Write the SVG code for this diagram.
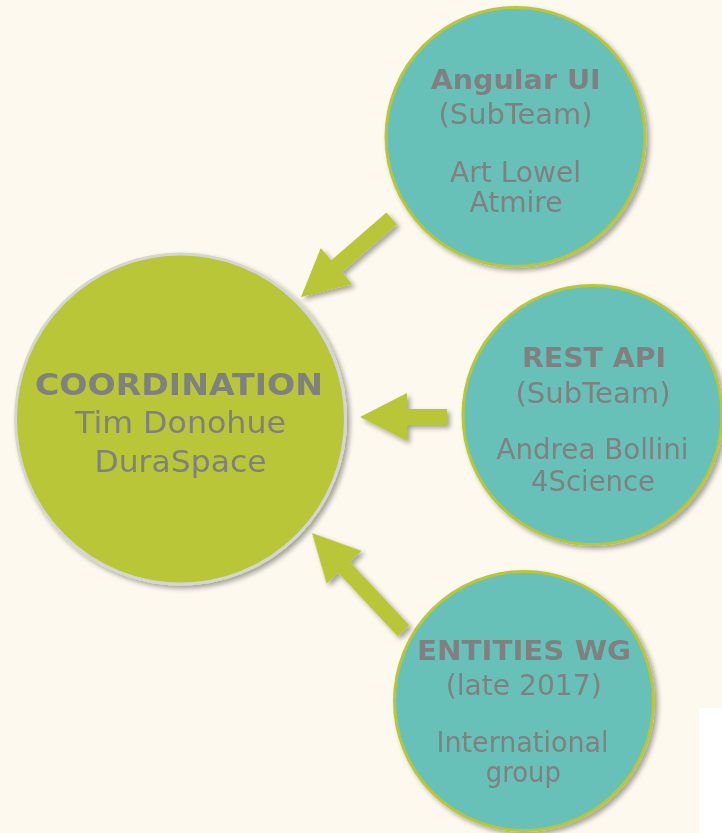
<svg xmlns="http://www.w3.org/2000/svg" width="722" height="833" viewBox="0 0 722 833">
<defs>
<filter id="sh" x="-20%" y="-20%" width="140%" height="140%">
<feDropShadow dx="3" dy="3" stdDeviation="2.5" flood-color="#000" flood-opacity="0.35"/>
</filter>
<style>
text{font-family:"DejaVu Sans","Verdana",sans-serif;fill:#808080;text-anchor:middle}
.b{font-weight:bold}
.big{font-size:30px}
.sm{font-size:27.5px}
.smb{font-size:27px;font-weight:bold}
.main{fill:#b9c637;stroke:#d6d6d0;stroke-width:3}
.sub{fill:#68c1b8;stroke:#b9c637;stroke-width:3}
.arr{fill:#b9c637}
</style>
</defs>
<rect width="722" height="833" fill="#fdf9ef"/>
<rect x="699" y="708" width="23" height="125" fill="#ffffff"/>
<g id="connectors" filter="url(#sh)">
<polygon class="arr" points="0,0 47,-24 47,-8 120,-8 120,8 47,8 47,24" transform="translate(301,297) rotate(-40.9)"/>
<polygon class="arr" points="0,0 47,-24 47,-8 87,-8 87,8 47,8 47,24" transform="translate(360,417)"/>
<polygon class="arr" points="0,0 47,-24 47,-8 134,-8 134,8 47,8 47,24" transform="translate(312,533) rotate(46.9)"/>
</g>
<g id="coordination">
<circle class="main" cx="180.5" cy="419" r="165" filter="url(#sh)"/>
<text class="b big" x="179" y="395" textLength="288" lengthAdjust="spacingAndGlyphs">COORDINATION</text>
<text class="big" x="180.5" y="433" textLength="211" lengthAdjust="spacingAndGlyphs">Tim Donohue</text>
<text class="big" x="180.5" y="472" textLength="172" lengthAdjust="spacingAndGlyphs">DuraSpace</text>
</g>
<g id="angular">
<circle class="sub" cx="515.5" cy="137" r="129.5" filter="url(#sh)"/>
<text class="smb" x="515.7" y="88.5" textLength="170" lengthAdjust="spacingAndGlyphs">Angular UI</text>
<text class="sm" x="515.5" y="123.5" textLength="154" lengthAdjust="spacingAndGlyphs">(SubTeam)</text>
<text class="sm" x="515.5" y="181.7" textLength="131" lengthAdjust="spacingAndGlyphs">Art Lowel</text>
<text class="sm" x="516" y="212" textLength="93" lengthAdjust="spacingAndGlyphs">Atmire</text>
</g>
<g id="rest">
<circle class="sub" cx="592.5" cy="415" r="129.5" filter="url(#sh)"/>
<text class="smb" x="594" y="367" textLength="144" lengthAdjust="spacingAndGlyphs">REST API</text>
<text class="sm" x="593" y="403" textLength="155" lengthAdjust="spacingAndGlyphs">(SubTeam)</text>
<text class="sm" x="592.5" y="459" textLength="192" lengthAdjust="spacingAndGlyphs">Andrea Bollini</text>
<text class="sm" x="593" y="491" textLength="124" lengthAdjust="spacingAndGlyphs">4Science</text>
</g>
<g id="entities">
<circle class="sub" cx="524" cy="701" r="129.5" filter="url(#sh)"/>
<text class="smb" x="524" y="660" textLength="214" lengthAdjust="spacingAndGlyphs">ENTITIES WG</text>
<text class="sm" x="523.7" y="695" textLength="156" lengthAdjust="spacingAndGlyphs">(late 2017)</text>
<text class="sm" x="522.5" y="751.7" textLength="172" lengthAdjust="spacingAndGlyphs">International</text>
<text class="sm" x="523.3" y="781.5" textLength="75" lengthAdjust="spacingAndGlyphs">group</text>
</g>
</svg>
